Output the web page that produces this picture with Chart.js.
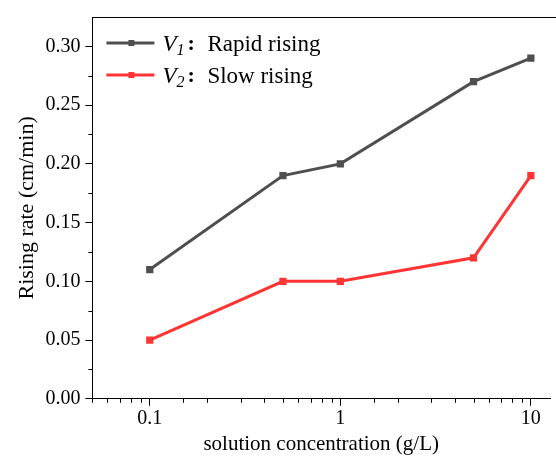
<!DOCTYPE html>
<html>
<head>
<meta charset="utf-8">
<script src="https://cdn.jsdelivr.net/npm/chart.js@4/dist/chart.umd.min.js"></script>
<style>
  html, body { margin: 0; padding: 0; background: #fff; }
  #wrap { width: 556px; height: 458px; }
</style>
</head>
<body>
<div id="wrap"><canvas id="rise"></canvas></div>
<script>
const concentration = [0.1, 0.5, 1, 5, 10];
const rapidRising = [0.11, 0.19, 0.20, 0.27, 0.29];
const slowRising = [0.05, 0.10, 0.10, 0.12, 0.19];
const xMajorTicks = [0.1, 1, 10];
const seriesLabels = [["V", "1", "Rapid rising"], ["V", "2", "Slow rising"]];

const gray = "#4f4f4f";
const red = "#ff3535";
const serif = "'Liberation Serif', 'Times New Roman', serif";

const ctx = document.getElementById("rise").getContext("2d");

const isMajorX = (v) => xMajorTicks.some((m) => Math.abs(v - m) < 1e-9);
const isMajorY = (v) => Math.abs(Math.round(v * 20) - v * 20) < 1e-6 && v < 0.32;

// minor tick marks + top frame line
const axisExtras = {
  id: "axisExtras",
  afterDraw(chart) {
    const c = chart.ctx;
    const { left, right, top, bottom } = chart.chartArea;
    c.save();
    c.strokeStyle = "#000";
    c.lineWidth = 1;
    c.beginPath();
    c.moveTo(left, top + 0.5);
    c.lineTo(chart.width, top + 0.5);
    for (const t of chart.scales.x.ticks) {
      if (isMajorX(t.value)) continue;
      const px = Math.round(chart.scales.x.getPixelForValue(t.value)) + 0.5;
      if (px < left || px > right - 2) continue;
      c.moveTo(px, bottom);
      c.lineTo(px, bottom + 4);
    }
    for (const t of chart.scales.y.ticks) {
      if (isMajorY(t.value)) continue;
      const py = Math.round(chart.scales.y.getPixelForValue(t.value)) + 0.5;
      if (py < top + 2) continue;
      c.moveTo(left, py);
      c.lineTo(left - 4, py);
    }
    c.stroke();
    c.restore();
  },
};

// legend with italic V and subscript
const seriesLegend = {
  id: "seriesLegend",
  afterDraw(chart) {
    const c = chart.ctx;
    const { left, top } = chart.chartArea;
    c.save();
    chart.data.datasets.forEach((ds, i) => {
      const y = top + 26 + i * 32;
      const x0 = left + 14;
      c.strokeStyle = ds.borderColor;
      c.lineWidth = 3;
      c.beginPath();
      c.moveTo(x0, y);
      c.lineTo(x0 + 48, y);
      c.stroke();
      c.fillStyle = ds.borderColor;
      c.fillRect(x0 + 22, y - 3, 6, 6);
      const [v, sub, text] = seriesLabels[i];
      c.fillStyle = "#000";
      c.textBaseline = "alphabetic";
      let tx = x0 + 56;
      c.font = "italic 23px " + serif;
      c.fillText(v, tx, y + 8);
      tx += c.measureText(v).width;
      c.font = "italic 16px " + serif;
      c.fillText(sub, tx, y + 12);
      tx += c.measureText(sub).width;
      c.font = "bold 22px " + serif;
      c.fillText(":", tx + 3, y + 7);
      c.font = "23px " + serif;
      c.fillText(text, x0 + 101, y + 8);
    });
    c.restore();
  },
};

new Chart(ctx, {
  type: "line",
  data: {
    datasets: [
      {
        label: "V1: Rapid rising",
        data: concentration.map((x, i) => ({ x, y: rapidRising[i] })),
        borderColor: gray,
        backgroundColor: gray,
        borderWidth: 3,
        pointStyle: "rect",
        pointRadius: 3,
        pointHoverRadius: 3,
        tension: 0,
      },
      {
        label: "V2: Slow rising",
        data: concentration.map((x, i) => ({ x, y: slowRising[i] })),
        borderColor: red,
        backgroundColor: red,
        borderWidth: 3,
        pointStyle: "rect",
        pointRadius: 3,
        pointHoverRadius: 3,
        tension: 0,
      },
    ],
  },
  options: {
    responsive: true,
    maintainAspectRatio: false,
    animation: false,
    layout: { padding: { top: 15, right: 0, left: 14, bottom: 1 } },
    plugins: { legend: { display: false }, tooltip: { enabled: false } },
    scales: {
      x: {
        type: "logarithmic",
        min: 0.05,
        max: 12.6,
        border: { color: "#000", width: 1 },
        grid: {
          drawOnChartArea: false,
          drawTicks: true,
          tickLength: 7,
          color: (c) => (c.tick && isMajorX(c.tick.value) ? "#000" : "rgba(0,0,0,0)"),
        },
        ticks: {
          autoSkip: false,
          maxRotation: 0,
          color: "#000",
          font: { family: serif, size: 20 },
          padding: 1,
          callback: (v) => (isMajorX(v) ? String(v) : ""),
        },
        title: {
          display: true,
          text: "solution concentration (g/L)",
          color: "#000",
          font: { family: serif, size: 21 },
          padding: { top: 0, bottom: 0 },
        },
      },
      y: {
        min: 0,
        max: 0.325,
        border: { color: "#000", width: 1 },
        grid: {
          drawOnChartArea: false,
          drawTicks: true,
          tickLength: 7,
          color: (c) => (c.tick && isMajorY(c.tick.value) ? "#000" : "rgba(0,0,0,0)"),
        },
        ticks: {
          stepSize: 0.025,
          autoSkip: false,
          color: "#000",
          font: { family: serif, size: 20 },
          padding: 5,
          callback: (v) => (isMajorY(v) ? v.toFixed(2) : ""),
        },
        title: {
          display: true,
          text: "Rising rate (cm/min)",
          color: "#000",
          font: { family: serif, size: 22 },
          padding: { top: 0, bottom: 0 },
        },
      },
    },
  },
  plugins: [axisExtras, seriesLegend],
});
</script>
</body>
</html>
